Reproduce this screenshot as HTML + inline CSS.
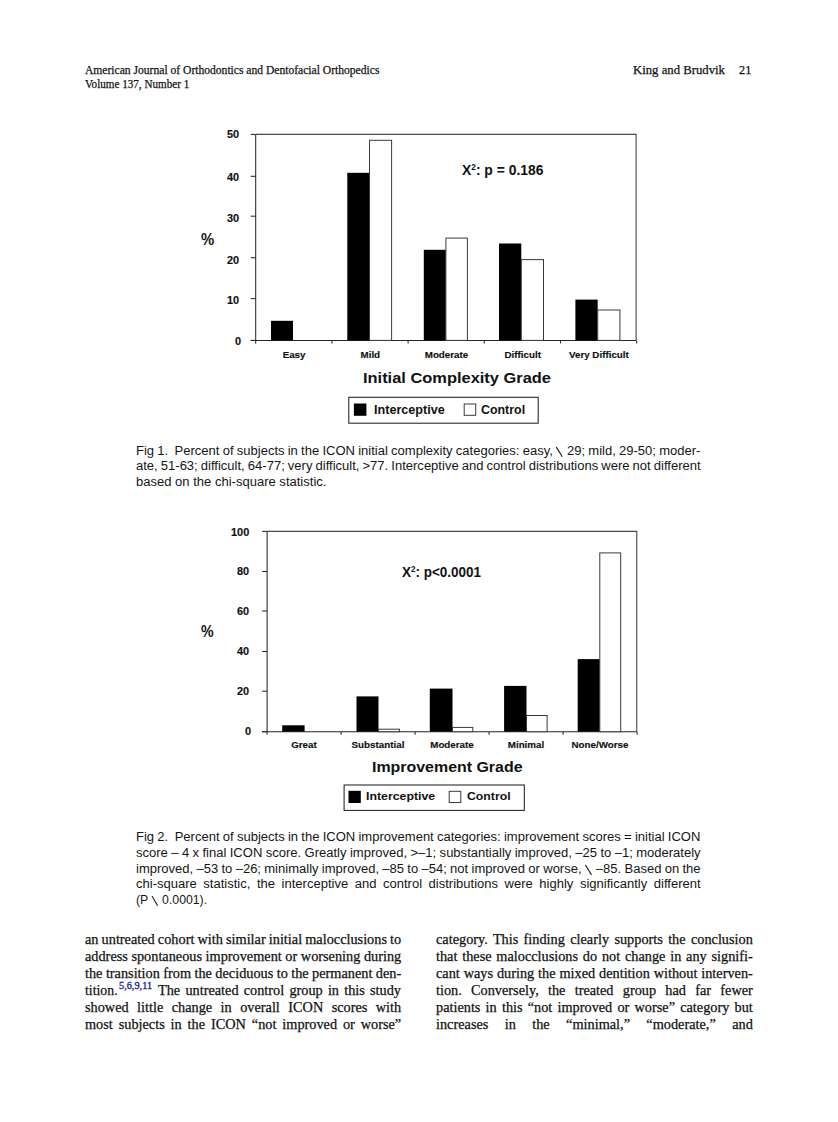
<!DOCTYPE html>
<html><head><meta charset="utf-8"><title>page</title>
<style>
html,body{margin:0;padding:0;background:#fff}
body{width:838px;height:1122px;position:relative;overflow:hidden}
.t{position:absolute;white-space:pre;line-height:1;transform-origin:0 0;margin:0}
.bs{display:inline-block;vertical-align:-1.3px;overflow:visible}
.sq{font-size:0.6em;position:relative;top:-0.56em;line-height:0}
.hdr,.hdrR,.body{-webkit-text-stroke:0.25px #111}
.ylab,.cat{-webkit-text-stroke:0.15px #111}
.sup{-webkit-text-stroke:0.3px #20208c}
.hdr{font-family:"Liberation Serif",serif;font-size:12.3px;font-weight:400;color:#111}
.hdrR{font-family:"Liberation Serif",serif;font-size:13px;font-weight:400;color:#111}
.body{font-family:"Liberation Serif",serif;font-size:14.5px;font-weight:400;color:#111}
.sup{font-family:"Liberation Serif",serif;font-size:9.5px;font-weight:400;color:#20208c}
.cap{font-family:"Liberation Sans",sans-serif;font-size:12.5px;font-weight:400;color:#151515}
.ylab{font-family:"Liberation Sans",sans-serif;font-size:11.5px;font-weight:700;color:#111}
.pct{font-family:"Liberation Sans",sans-serif;font-size:16px;font-weight:700;color:#111}
.cat{font-family:"Liberation Sans",sans-serif;font-size:9.8px;font-weight:700;color:#111}
.ttl{font-family:"Liberation Sans",sans-serif;font-size:15.4px;font-weight:700;color:#111}
.leg{font-family:"Liberation Sans",sans-serif;font-size:12.5px;font-weight:700;color:#111}
.leg2{font-family:"Liberation Sans",sans-serif;font-size:11.8px;font-weight:700;color:#111}
.chi{font-family:"Liberation Sans",sans-serif;font-size:14px;font-weight:700;color:#111}
</style></head><body>
<svg width="838" height="1122" viewBox="0 0 838 1122" style="position:absolute;left:0;top:0">
<path d="M255.7 134.4H636.1" fill="none" stroke="#4a4a4a" stroke-width="1.1"/>
<path d="M636.1 133.9V340.4" fill="none" stroke="#333" stroke-width="1"/>
<path d="M255.7 134.4V343.4M250.7 340.4H636.1" fill="none" stroke="#262626" stroke-width="1.05"/>
<path d="M250.7 134.4H255.7" stroke="#262626" stroke-width="1.05"/>
<path d="M250.7 176.3H255.7" stroke="#262626" stroke-width="1.05"/>
<path d="M250.7 216.2H255.7" stroke="#262626" stroke-width="1.05"/>
<path d="M250.7 257.7H255.7" stroke="#262626" stroke-width="1.05"/>
<path d="M250.7 298.6H255.7" stroke="#262626" stroke-width="1.05"/>
<path d="M250.7 340.4H255.7" stroke="#262626" stroke-width="1.05"/>
<path d="M331.9 340.4V343.4" stroke="#262626" stroke-width="1.05"/>
<path d="M408.1 340.4V343.4" stroke="#262626" stroke-width="1.05"/>
<path d="M484.3 340.4V343.4" stroke="#262626" stroke-width="1.05"/>
<path d="M560.5 340.4V343.4" stroke="#262626" stroke-width="1.05"/>
<path d="M636.7 340.4V343.4" stroke="#262626" stroke-width="1.05"/>
<rect x="271" y="320.8" width="22" height="19.599999999999966" fill="#000"/>
<rect x="347.3" y="172.8" width="22.19999999999999" height="167.59999999999997" fill="#000"/>
<rect x="369.5" y="140.3" width="22.100000000000023" height="200.09999999999997" fill="#fff" stroke="#3a3a3a" stroke-width="1"/>
<rect x="423.8" y="249.8" width="22.099999999999966" height="90.59999999999997" fill="#000"/>
<rect x="445.9" y="238.1" width="21.5" height="102.29999999999998" fill="#fff" stroke="#3a3a3a" stroke-width="1"/>
<rect x="499" y="243.5" width="22.299999999999955" height="96.89999999999998" fill="#000"/>
<rect x="521.3" y="259.6" width="22.200000000000045" height="80.79999999999995" fill="#fff" stroke="#3a3a3a" stroke-width="1"/>
<rect x="575.4" y="299.6" width="22.300000000000068" height="40.799999999999955" fill="#000"/>
<rect x="597.7" y="310.0" width="22.199999999999932" height="30.399999999999977" fill="#fff" stroke="#3a3a3a" stroke-width="1"/>
<rect x="348.8" y="397.3" width="189.4" height="25.9" fill="#fff" stroke="#222" stroke-width="1.05"/>
<rect x="353.9" y="403.5" width="12.5" height="12.3" fill="#000"/>
<rect x="464.2" y="404" width="11.5" height="11.3" fill="#fff" stroke="#3a3a3a" stroke-width="1"/>
<path d="M267.1 531.4H636.8" fill="none" stroke="#4a4a4a" stroke-width="1.1"/>
<path d="M636.8 530.9V731.7" fill="none" stroke="#333" stroke-width="1"/>
<path d="M267.1 531.4V734.7M262.1 731.7H636.8" fill="none" stroke="#262626" stroke-width="1.05"/>
<path d="M262.1 531.4H267.1" stroke="#262626" stroke-width="1.05"/>
<path d="M262.1 571.5H267.1" stroke="#262626" stroke-width="1.05"/>
<path d="M262.1 611.0H267.1" stroke="#262626" stroke-width="1.05"/>
<path d="M262.1 651.5H267.1" stroke="#262626" stroke-width="1.05"/>
<path d="M262.1 691.2H267.1" stroke="#262626" stroke-width="1.05"/>
<path d="M262.1 731.7H267.1" stroke="#262626" stroke-width="1.05"/>
<path d="M341.1 731.7V734.7" stroke="#262626" stroke-width="1.05"/>
<path d="M415.1 731.7V734.7" stroke="#262626" stroke-width="1.05"/>
<path d="M489.1 731.7V734.7" stroke="#262626" stroke-width="1.05"/>
<path d="M563.1 731.7V734.7" stroke="#262626" stroke-width="1.05"/>
<path d="M637.1 731.7V734.7" stroke="#262626" stroke-width="1.05"/>
<rect x="282.2" y="725.3" width="22.400000000000034" height="6.400000000000091" fill="#000"/>
<rect x="356.5" y="696.4" width="22.0" height="35.30000000000007" fill="#000"/>
<rect x="378.5" y="729.2" width="20.899999999999977" height="2.5" fill="#fff" stroke="#3a3a3a" stroke-width="1"/>
<rect x="429.8" y="688.6" width="22.69999999999999" height="43.10000000000002" fill="#000"/>
<rect x="452.5" y="727.4" width="20.30000000000001" height="4.300000000000068" fill="#fff" stroke="#3a3a3a" stroke-width="1"/>
<rect x="504.1" y="685.9" width="22.399999999999977" height="45.80000000000007" fill="#000"/>
<rect x="526.5" y="715.5" width="20.600000000000023" height="16.200000000000045" fill="#fff" stroke="#3a3a3a" stroke-width="1"/>
<rect x="577.7" y="659.1" width="22.09999999999991" height="72.60000000000002" fill="#000"/>
<rect x="599.8" y="552.9" width="20.90000000000009" height="178.80000000000007" fill="#fff" stroke="#3a3a3a" stroke-width="1"/>
<rect x="344.1" y="785.0" width="180.2" height="25.4" fill="#fff" stroke="#222" stroke-width="1.05"/>
<rect x="348.5" y="790.8" width="12.3" height="12.2" fill="#000"/>
<rect x="449.2" y="791.3" width="11.6" height="11.2" fill="#fff" stroke="#3a3a3a" stroke-width="1"/>
</svg>
<div id="l0" class="t hdr" style="left:84.60px;top:64.00px;transform:scaleX(0.9412);">American Journal of Orthodontics and Dentofacial Orthopedics</div>
<div id="l1" class="t hdr" style="left:84.60px;top:77.80px;transform:scaleX(0.9044);">Volume 137, Number 1</div>
<div id="l2" class="t hdrR" style="left:633.30px;top:62.90px;transform:scaleX(0.9788);">King and Brudvik</div>
<div id="l3" class="t hdrR" style="left:738.50px;top:62.90px;transform:scaleX(0.9462);">21</div>
<div id="l4" class="t cap" style="left:136.10px;top:445.00px;word-spacing:-0.396px;transform:scaleX(1.042);">Fig 1.  Percent of subjects in the ICON initial complexity categories: easy, <svg class="bs" width="7.4" height="9.8" viewBox="0 0 7.4 9.8"><path d="M0.3 0L6.1 9.8" stroke="#151515" stroke-width="1.1" fill="none"/></svg> 29; mild, 29-50; moder-</div>
<div id="l5" class="t cap" style="left:135.90px;top:460.00px;word-spacing:-0.518px;transform:scaleX(1.042);">ate, 51-63; difficult, 64-77; very difficult, &gt;77. Interceptive and control distributions were not different</div>
<div id="l6" class="t cap" style="left:135.90px;top:476.00px;transform:scaleX(1.042);">based on the chi-square statistic.</div>
<div id="l7" class="t cap" style="left:136.10px;top:831.00px;word-spacing:-0.363px;transform:scaleX(1.042);">Fig 2.  Percent of subjects in the ICON improvement categories: improvement scores = initial ICON</div>
<div id="l8" class="t cap" style="left:135.90px;top:847.00px;word-spacing:-0.214px;transform:scaleX(1.042);">score – 4 x final ICON score. Greatly improved, &gt;–1; substantially improved, –25 to –1; moderately</div>
<div id="l9" class="t cap" style="left:135.90px;top:863.00px;word-spacing:-0.320px;transform:scaleX(1.042);">improved, –53 to –26; minimally improved, –85 to –54; not improved or worse, <svg class="bs" width="7.4" height="9.8" viewBox="0 0 7.4 9.8"><path d="M0.3 0L6.1 9.8" stroke="#151515" stroke-width="1.1" fill="none"/></svg> –85. Based on the</div>
<div id="l10" class="t cap" style="left:135.90px;top:878.00px;word-spacing:2.792px;transform:scaleX(1.042);">chi-square statistic, the interceptive and control distributions were highly significantly different</div>
<div id="l11" class="t cap" style="left:135.90px;top:894.00px;transform:scaleX(0.9809);">(P <svg class="bs" width="7.4" height="9.8" viewBox="0 0 7.4 9.8"><path d="M0.3 0L6.1 9.8" stroke="#151515" stroke-width="1.1" fill="none"/></svg> 0.0001).</div>
<div id="l12" class="t body" style="left:85.00px;top:931.80px;word-spacing:-0.451px;transform:scaleX(0.985);">an untreated cohort with similar initial malocclusions to</div>
<div id="l13" class="t body" style="left:85.00px;top:948.80px;word-spacing:0.009px;transform:scaleX(0.985);">address spontaneous improvement or worsening during</div>
<div id="l14" class="t body" style="left:85.00px;top:965.80px;word-spacing:-0.141px;transform:scaleX(0.985);">the transition from the deciduous to the permanent den-</div>
<div id="l15" class="t body" style="left:85.00px;top:982.80px;transform:scaleX(0.9518);">tition.</div>
<div id="l16" class="t sup" style="left:119.40px;top:981.50px;transform:scaleX(1.0841);">5,6,9,11</div>
<div id="l17" class="t body" style="left:158.20px;top:982.80px;word-spacing:1.651px;transform:scaleX(0.985);">The untreated control group in this study</div>
<div id="l18" class="t body" style="left:85.00px;top:999.80px;word-spacing:4.958px;transform:scaleX(0.985);">showed little change in overall ICON scores with</div>
<div id="l19" class="t body" style="left:85.00px;top:1016.80px;word-spacing:2.373px;transform:scaleX(0.985);">most subjects in the ICON “not improved or worse”</div>
<div id="l20" class="t body" style="left:435.60px;top:931.80px;word-spacing:1.792px;transform:scaleX(0.985);">category. This finding clearly supports the conclusion</div>
<div id="l21" class="t body" style="left:435.60px;top:948.80px;word-spacing:1.242px;transform:scaleX(0.985);">that these malocclusions do not change in any signifi-</div>
<div id="l22" class="t body" style="left:435.60px;top:965.80px;word-spacing:0.326px;transform:scaleX(0.985);">cant ways during the mixed dentition without interven-</div>
<div id="l23" class="t body" style="left:435.60px;top:982.80px;word-spacing:5.759px;transform:scaleX(0.985);">tion. Conversely, the treated group had far fewer</div>
<div id="l24" class="t body" style="left:435.60px;top:999.80px;word-spacing:1.646px;transform:scaleX(0.985);">patients in this “not improved or worse” category but</div>
<div id="l25" class="t body" style="left:435.60px;top:1016.80px;word-spacing:13.031px;transform:scaleX(0.985);">increases in the “minimal,” “moderate,” and</div>
<div id="l26" class="t ylab" style="left:226.64px;top:129.20px;transform:scaleX(0.95);">50</div>
<div id="l27" class="t ylab" style="left:226.64px;top:171.90px;transform:scaleX(0.95);">40</div>
<div id="l28" class="t ylab" style="left:226.64px;top:212.50px;transform:scaleX(0.95);">30</div>
<div id="l29" class="t ylab" style="left:226.64px;top:254.60px;transform:scaleX(0.95);">20</div>
<div id="l30" class="t ylab" style="left:226.64px;top:295.10px;transform:scaleX(0.95);">10</div>
<div id="l31" class="t ylab" style="left:234.91px;top:336.20px;transform:scaleX(0.95);">0</div>
<div id="l32" class="t pct" style="left:201.30px;top:232.00px;transform:scaleX(0.9273);">%</div>
<div id="l33" class="t cat" style="left:282.65px;top:349.70px;">Easy</div>
<div id="l34" class="t cat" style="left:360.50px;top:349.70px;">Mild</div>
<div id="l35" class="t cat" style="left:424.72px;top:349.70px;">Moderate</div>
<div id="l36" class="t cat" style="left:504.47px;top:349.70px;">Difficult</div>
<div id="l37" class="t cat" style="left:568.95px;top:349.70px;">Very Difficult</div>
<div id="l38" class="t ttl" style="left:363.40px;top:369.70px;transform:scaleX(1.0670);">Initial Complexity Grade</div>
<div id="l39" class="t leg" style="left:373.90px;top:404.10px;transform:scaleX(1.0075);">Interceptive</div>
<div id="l40" class="t leg" style="left:481.30px;top:404.10px;transform:scaleX(0.9924);">Control</div>
<div id="l41" class="t chi" style="left:461.80px;top:163.20px;transform:scaleX(0.9914);">X<span class="sq">2</span>: p = 0.186</div>
<div id="l42" class="t ylab" style="left:230.77px;top:526.60px;transform:scaleX(0.95);">100</div>
<div id="l43" class="t ylab" style="left:236.84px;top:566.10px;transform:scaleX(0.95);">80</div>
<div id="l44" class="t ylab" style="left:236.84px;top:605.80px;transform:scaleX(0.95);">60</div>
<div id="l45" class="t ylab" style="left:236.84px;top:646.30px;transform:scaleX(0.95);">40</div>
<div id="l46" class="t ylab" style="left:236.84px;top:686.10px;transform:scaleX(0.95);">20</div>
<div id="l47" class="t ylab" style="left:245.31px;top:726.40px;transform:scaleX(0.95);">0</div>
<div id="l48" class="t pct" style="left:201.30px;top:623.50px;transform:scaleX(0.8852);">%</div>
<div id="l49" class="t cat" style="left:291.20px;top:740.00px;">Great</div>
<div id="l50" class="t cat" style="left:351.59px;top:740.00px;">Substantial</div>
<div id="l51" class="t cat" style="left:430.22px;top:740.00px;">Moderate</div>
<div id="l52" class="t cat" style="left:507.76px;top:740.00px;">Minimal</div>
<div id="l53" class="t cat" style="left:571.51px;top:740.00px;">None/Worse</div>
<div id="l54" class="t ttl" style="left:372.10px;top:759.00px;transform:scaleX(1.0350);">Improvement Grade</div>
<div id="l55" class="t leg2" style="left:365.80px;top:791.40px;transform:scaleX(1.0448);">Interceptive</div>
<div id="l56" class="t leg2" style="left:466.60px;top:791.40px;transform:scaleX(1.0396);">Control</div>
<div id="l57" class="t chi" style="left:402.40px;top:564.90px;transform:scaleX(0.9619);">X<span class="sq">2</span>: p&lt;0.0001</div>
</body></html>
